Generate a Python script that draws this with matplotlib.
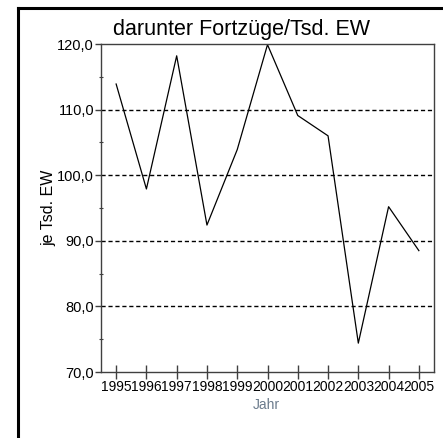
import numpy as np
import matplotlib
matplotlib.use('Agg')
import matplotlib.pyplot as plt
from matplotlib.ticker import FixedLocator
from matplotlib.lines import Line2D

years = [1995, 1996, 1997, 1998, 1999, 2000, 2001, 2002, 2003, 2004, 2005]
fortzuege = [113.9, 97.9, 118.2, 92.4, 103.9, 119.9, 109.1, 106.0, 74.4, 95.2, 88.5]
ytick_vals = [70, 80, 90, 100, 110, 120]
ytick_labels = ['70,0', '80,0', '90,0', '100,0', '110,0', '120,0']

plt.rcParams['font.family'] = ['Liberation Sans', 'DejaVu Sans']

W, H = 443, 438
fig = plt.figure(figsize=(W/100, H/100), dpi=100)
ax = fig.add_axes([101/W, 1-372/H, 333/W, 328/H])

ax.plot(years, fortzuege, color='black', linewidth=0.9)

ax.set_xlim(1994.5, 2005.5)
ax.set_ylim(70, 120)

# gridlines only inside
for v in ytick_vals[1:-1]:
  ax.axhline(v, color='black', linewidth=1, linestyle=(0, (3, 2)), zorder=0)

ax.set_yticks(ytick_vals)
ax.set_yticklabels(ytick_labels, fontsize=10.5)
ax.yaxis.set_minor_locator(FixedLocator([75, 85, 95, 105, 115]))
ax.set_xticks(years)
ax.set_xticklabels([str(y) for y in years], fontsize=10)

ax.tick_params(axis='y', which='major', direction='out', length=4, width=1, pad=1, color='#404040')
ax.tick_params(axis='y', which='minor', direction='inout', length=3, width=0.8, color='#404040')
ax.tick_params(axis='x', which='major', direction='inout', length=10, width=1, pad=1, color='#404040')

for s in ax.spines.values():
  s.set_color('#404040')
  s.set_linewidth(1)

ax.set_ylabel('je Tsd. EW', fontsize=11.5)
ax.yaxis.set_label_coords((56-101)/333, 0.5)
fig.text(266/W, 1-405/H, 'Jahr', fontsize=10, color='#6b7b8c', ha='center', va='center')

fig.text(241.5/W, 1-29/H, 'darunter Fortzüge/Tsd. EW', fontsize=15.5, ha='center', va='center')

# frame on left and top
fig.add_artist(Line2D([17.5/W, 17.5/W], [0, 1-7.5/H], color='black', linewidth=2.2,
                      transform=fig.transFigure, solid_capstyle='projecting'))
fig.add_artist(Line2D([17.5/W, 1.0], [1-7.5/H, 1-7.5/H], color='black', linewidth=2.2,
                      transform=fig.transFigure, solid_capstyle='projecting'))

fig.savefig('out.png', dpi=100)
